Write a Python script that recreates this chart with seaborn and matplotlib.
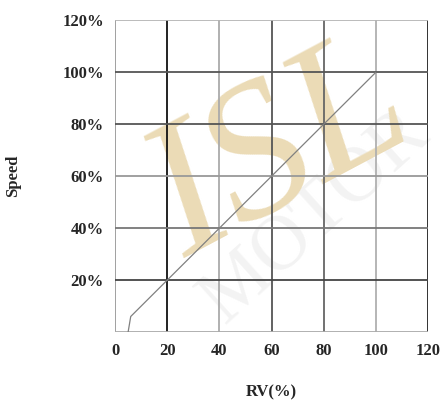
import matplotlib
matplotlib.use("Agg")
import matplotlib.pyplot as plt
import seaborn as sns
import pandas as pd

# datos de la curva
rv = [5.0, 6.0, 100.0]
speed = [0.0, 6.0, 100.0]

x_ticks = [0, 20, 40, 60, 80, 100, 120]
y_ticks = [20, 40, 60, 80, 100, 120]
y_labels = [f"{v}%" for v in y_ticks]

# colores de la cuadrícula (como en la imagen)
v_colors = ["#999999", "#111111", "#aaaaaa", "#555555", "#666666", "#b0b0b0", "#222222"]
h_colors = ["#444444", "#777777", "#999999", "#555555", "#555555", "#b5b5b5"]

sns.set_style("white")
plt.rcParams["font.family"] = ["Liberation Serif", "DejaVu Serif"]

fig = plt.figure(figsize=(4.46, 4.04), dpi=100)
ax = fig.add_axes([0.258, 0.178, 0.702, 0.772])

df = pd.DataFrame({"RV": rv, "Speed": speed})
sns.lineplot(data=df, x="RV", y="Speed", color="#808080", linewidth=0.9,
             sort=False, ax=ax, zorder=3)

ax.set_xlim(0, 120)
ax.set_ylim(0, 120)

# cuadrícula dibujada línea por línea
for x, c in zip(x_ticks, v_colors):
    ax.axvline(x, color=c, linewidth=1.3, zorder=2)
for y, c in zip(y_ticks, h_colors):
    ax.axhline(y, color=c, linewidth=1.3, zorder=2)
ax.axhline(0, color="#aaaaaa", linewidth=1.3, zorder=2)

for s in ax.spines.values():
    s.set_visible(False)

ax.set_xticks(x_ticks)
ax.set_xticklabels([str(v) for v in x_ticks], fontsize=12, fontweight="bold")
ax.set_yticks(y_ticks)
ax.set_yticklabels(y_labels, fontsize=12, fontweight="bold")
ax.tick_params(length=0, pad=8)

ax.set_xlabel("RV(%)", fontsize=12, fontweight="bold", labelpad=18)
ax.set_ylabel("Speed", fontsize=12, fontweight="bold", labelpad=30)

# marca de agua
ax.text(0.53, 0.57, "ISL", transform=ax.transAxes, fontsize=138,
        style="italic", color="#ebdbb6", rotation=28, ha="center", va="center",
        zorder=1, clip_on=False)
ax.text(0.64, 0.37, "MOTOR", transform=ax.transAxes, fontsize=56,
        color="#f3f3f3", rotation=42, ha="center", va="center",
        zorder=0.5, clip_on=False)

fig.savefig("out.png", dpi=100)
